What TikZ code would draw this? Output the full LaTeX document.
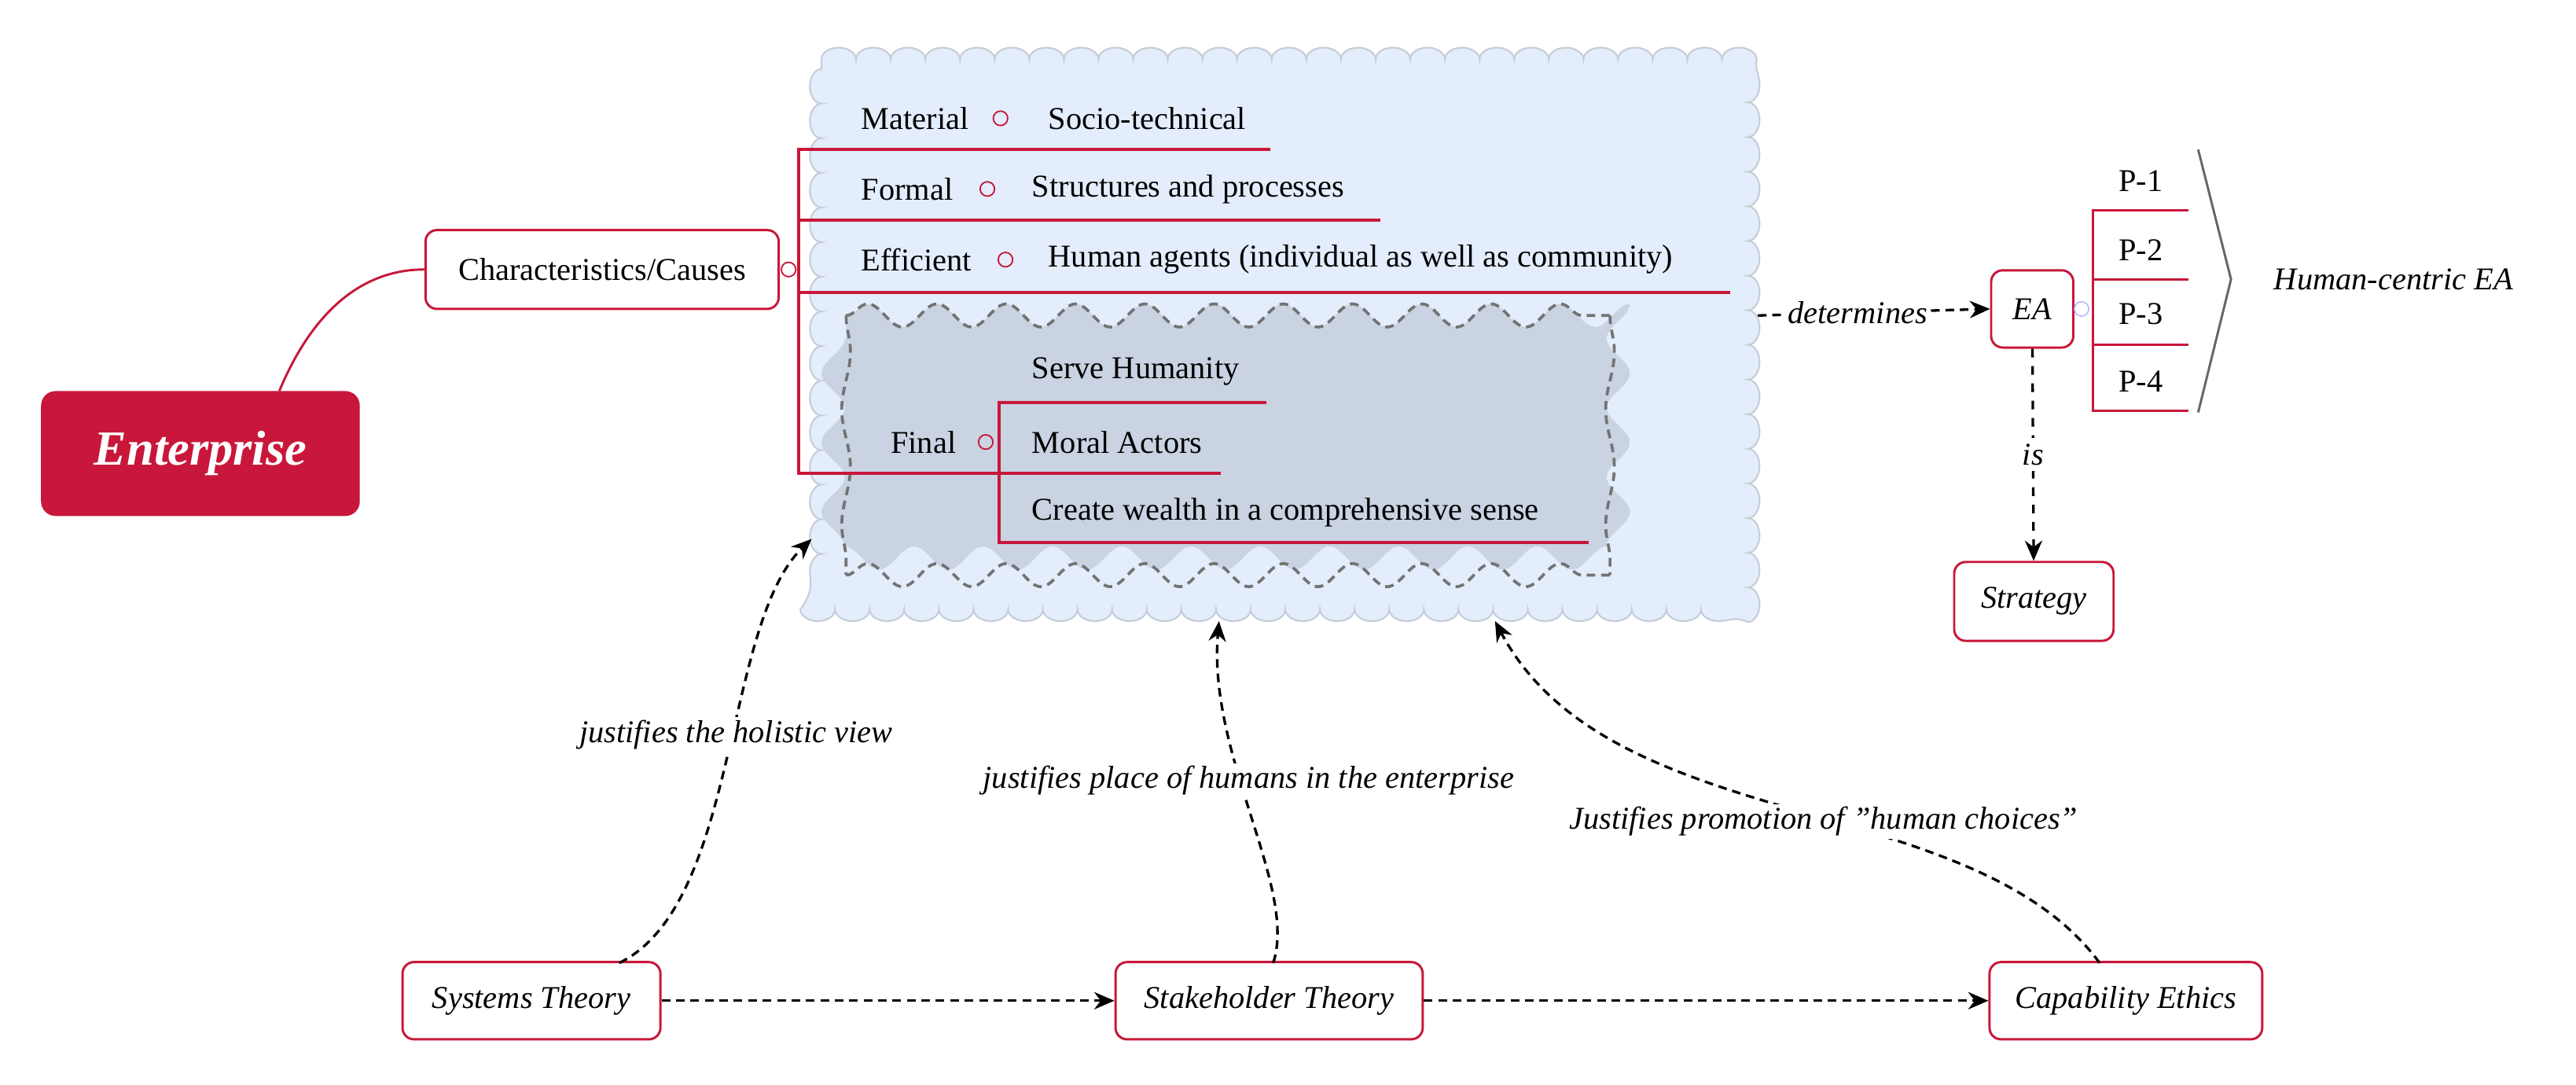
\documentclass[tikz,border=0pt]{standalone}
\usepackage{fontspec}
\setmainfont{Liberation Serif}
\usetikzlibrary{arrows.meta,decorations.pathmorphing,calc}
\definecolor{crim}{HTML}{C8173A}
\definecolor{cloudbg}{HTML}{E3EDFB}
\definecolor{cloudln}{HTML}{C8CED8}
\definecolor{innerbg}{HTML}{C9D3E2}
\begin{document}
\begin{tikzpicture}[x=0.02cm,y=-0.02cm,font=\fontsize{11}{13}\selectfont,
  box/.style={draw=crim,line width=0.8pt,rounded corners=4pt,fill=white,inner sep=0pt},
  rl/.style={draw=crim,line width=1.1pt},
  dar/.style={densely dashed,line width=0.9pt,-{Stealth[length=7pt,width=6pt]}},
  lab/.style={font=\fontsize{11}{13}\selectfont\itshape},
  knob/.style={circle,draw=crim,inner sep=0pt,minimum size=5pt,line width=0.5pt}]
\useasboundingbox (0,0) rectangle (1568,660);
% cloud
\filldraw[fill=cloudbg,draw=cloudln,line width=0.6pt,decorate,decoration={bumps,segment length=24pt,amplitude=4pt}] (500,36) -- (1064,36) -- (1064,371) -- (500,371) -- cycle;
% inner
\path[fill=innerbg,decorate,decoration={snake,segment length=24pt,amplitude=4pt}] (515,192) -- (980,192) -- (980,350) -- (515,350) -- cycle;
\draw[gray!90!black,line width=1pt,dash pattern=on 3pt off 2pt,decorate,decoration={snake,segment length=24pt,amplitude=4pt}] (515,192) -- (980,192);
\draw[gray!90!black,line width=1pt,dash pattern=on 3pt off 2pt,decorate,decoration={snake,segment length=24pt,amplitude=4pt}] (515,350) -- (980,350);
\draw[gray!90!black,line width=1pt,dash pattern=on 3pt off 2pt,decorate,decoration={snake,segment length=40pt,amplitude=1.5pt}] (980,192) -- (980,350);
\draw[gray!90!black,line width=1pt,dash pattern=on 3pt off 2pt,decorate,decoration={snake,segment length=40pt,amplitude=1.5pt}] (515,192) -- (515,350);
% Enterprise
\node[fill=crim,rounded corners=5pt,minimum width=194*0.02cm,minimum height=76*0.02cm,text=white,font=\fontsize{17}{20}\selectfont\bfseries\itshape] (ent) at (122,276) {Enterprise};
\node[box,minimum width=215*0.02cm,minimum height=48*0.02cm] (ch) at (366.5,164) {Characteristics/Causes};
\draw[crim,line width=0.8pt] (170,238) .. controls (190,190) and (220,164) .. (ch.west);
\node[knob] (k0) at (480,164) {};
% bracket
\draw[rl] (773,91) -- (486,91) -- (486,288) -- (743,288);
\draw[rl] (486,134) -- (840,134);
\draw[rl] (486,178) -- (1053,178);
\draw[rl] (771,245) -- (608,245) -- (608,330) -- (967,330);
\node[anchor=west] (m1) at (518,72) {Material};
\node[knob] at (609,72) {};
\node[anchor=west] (m2) at (632,72) {Socio-technical};
\node[anchor=west] (f1) at (518,115) {Formal};
\node[knob] at (601,115) {};
\node[anchor=west] (f2) at (622,115) {Structures and processes};
\node[anchor=west] (e1) at (518,158) {Efficient};
\node[knob] at (612,158) {};
\node[anchor=west] (e2) at (632,158) {Human agents (individual as well as community)};
\node[anchor=west] (fi) at (536,269) {Final};
\node[knob] at (600,269) {};
\node[anchor=west] (s1) at (622,226) {Serve Humanity};
\node[anchor=west] (s2) at (622,269) {Moral Actors};
\node[anchor=west] (s3) at (622,312) {Create wealth in a comprehensive sense};
\coordinate (cl) at (1070,192);
% EA
\node[box,minimum width=50*0.02cm,minimum height=47*0.02cm,font=\fontsize{11}{13}\selectfont\itshape] (ea) at (1237,188) {EA};
\draw[dar] (cl) -- node[lab,fill=white,inner sep=1pt,pos=0.43] {determines} (ea.west);
\node[circle,draw=blue!30,inner sep=0pt,minimum size=5pt] at (1267,188) {};
\draw[rl,line width=0.8pt] (1332,128) -- (1274,128) -- (1274,250) -- (1332,250);
\draw[rl,line width=0.8pt] (1274,170) -- (1332,170);
\draw[rl,line width=0.8pt] (1274,210) -- (1332,210);
\node (p1) at (1303,110) {P-1};
\node (p2) at (1303,152) {P-2};
\node (p3) at (1303,191) {P-3};
\node (p4) at (1303,232) {P-4};
\draw[gray!80!black,line width=0.8pt] (1338,91) -- (1358,170) -- (1338,251);
\node[anchor=west,lab] (hc) at (1378,170) {Human-centric EA};
\node[box,minimum width=97*0.02cm,minimum height=48*0.02cm,font=\fontsize{11}{13}\selectfont\itshape] (st) at (1238,366) {Strategy};
\draw[dar,dashed] (ea) -- node[lab,fill=white,inner sep=2pt] {is} (st);
% bottom
\node[box,minimum width=157*0.02cm,minimum height=47*0.02cm,font=\fontsize{11}{13}\selectfont\itshape] (sy) at (323.5,609) {Systems Theory};
\node[box,minimum width=187*0.02cm,minimum height=47*0.02cm,font=\fontsize{11}{13}\selectfont\itshape] (sh) at (772.5,609) {Stakeholder Theory};
\node[box,minimum width=166*0.02cm,minimum height=47*0.02cm,font=\fontsize{11}{13}\selectfont\itshape] (ce) at (1294,609) {Capability Ethics};
\draw[dar] (sy) -- (sh);
\draw[dar] (sh) -- (ce);
\coordinate (t1) at (494,328);
\coordinate (t2) at (742,378);
\coordinate (t3) at (910,378);
\draw[dar] (377,586) .. controls (450,550) and (440,380) .. (t1);
\draw[dar] (775,586) .. controls (790,540) and (735,460) .. (t2);
\draw[dar] (1278,586) .. controls (1200,480) and (980,510) .. (t3);
\node[lab,fill=white,inner sep=1pt] at (448,447) {justifies the holistic view};
\node[lab,fill=white,inner sep=1pt] at (760,475) {justifies place of humans in the enterprise};
\node[lab,fill=white,inner sep=1pt] at (1110,500) {Justifies promotion of \symbol{34}human choices\symbol{34}};
\end{tikzpicture}
\end{document}
